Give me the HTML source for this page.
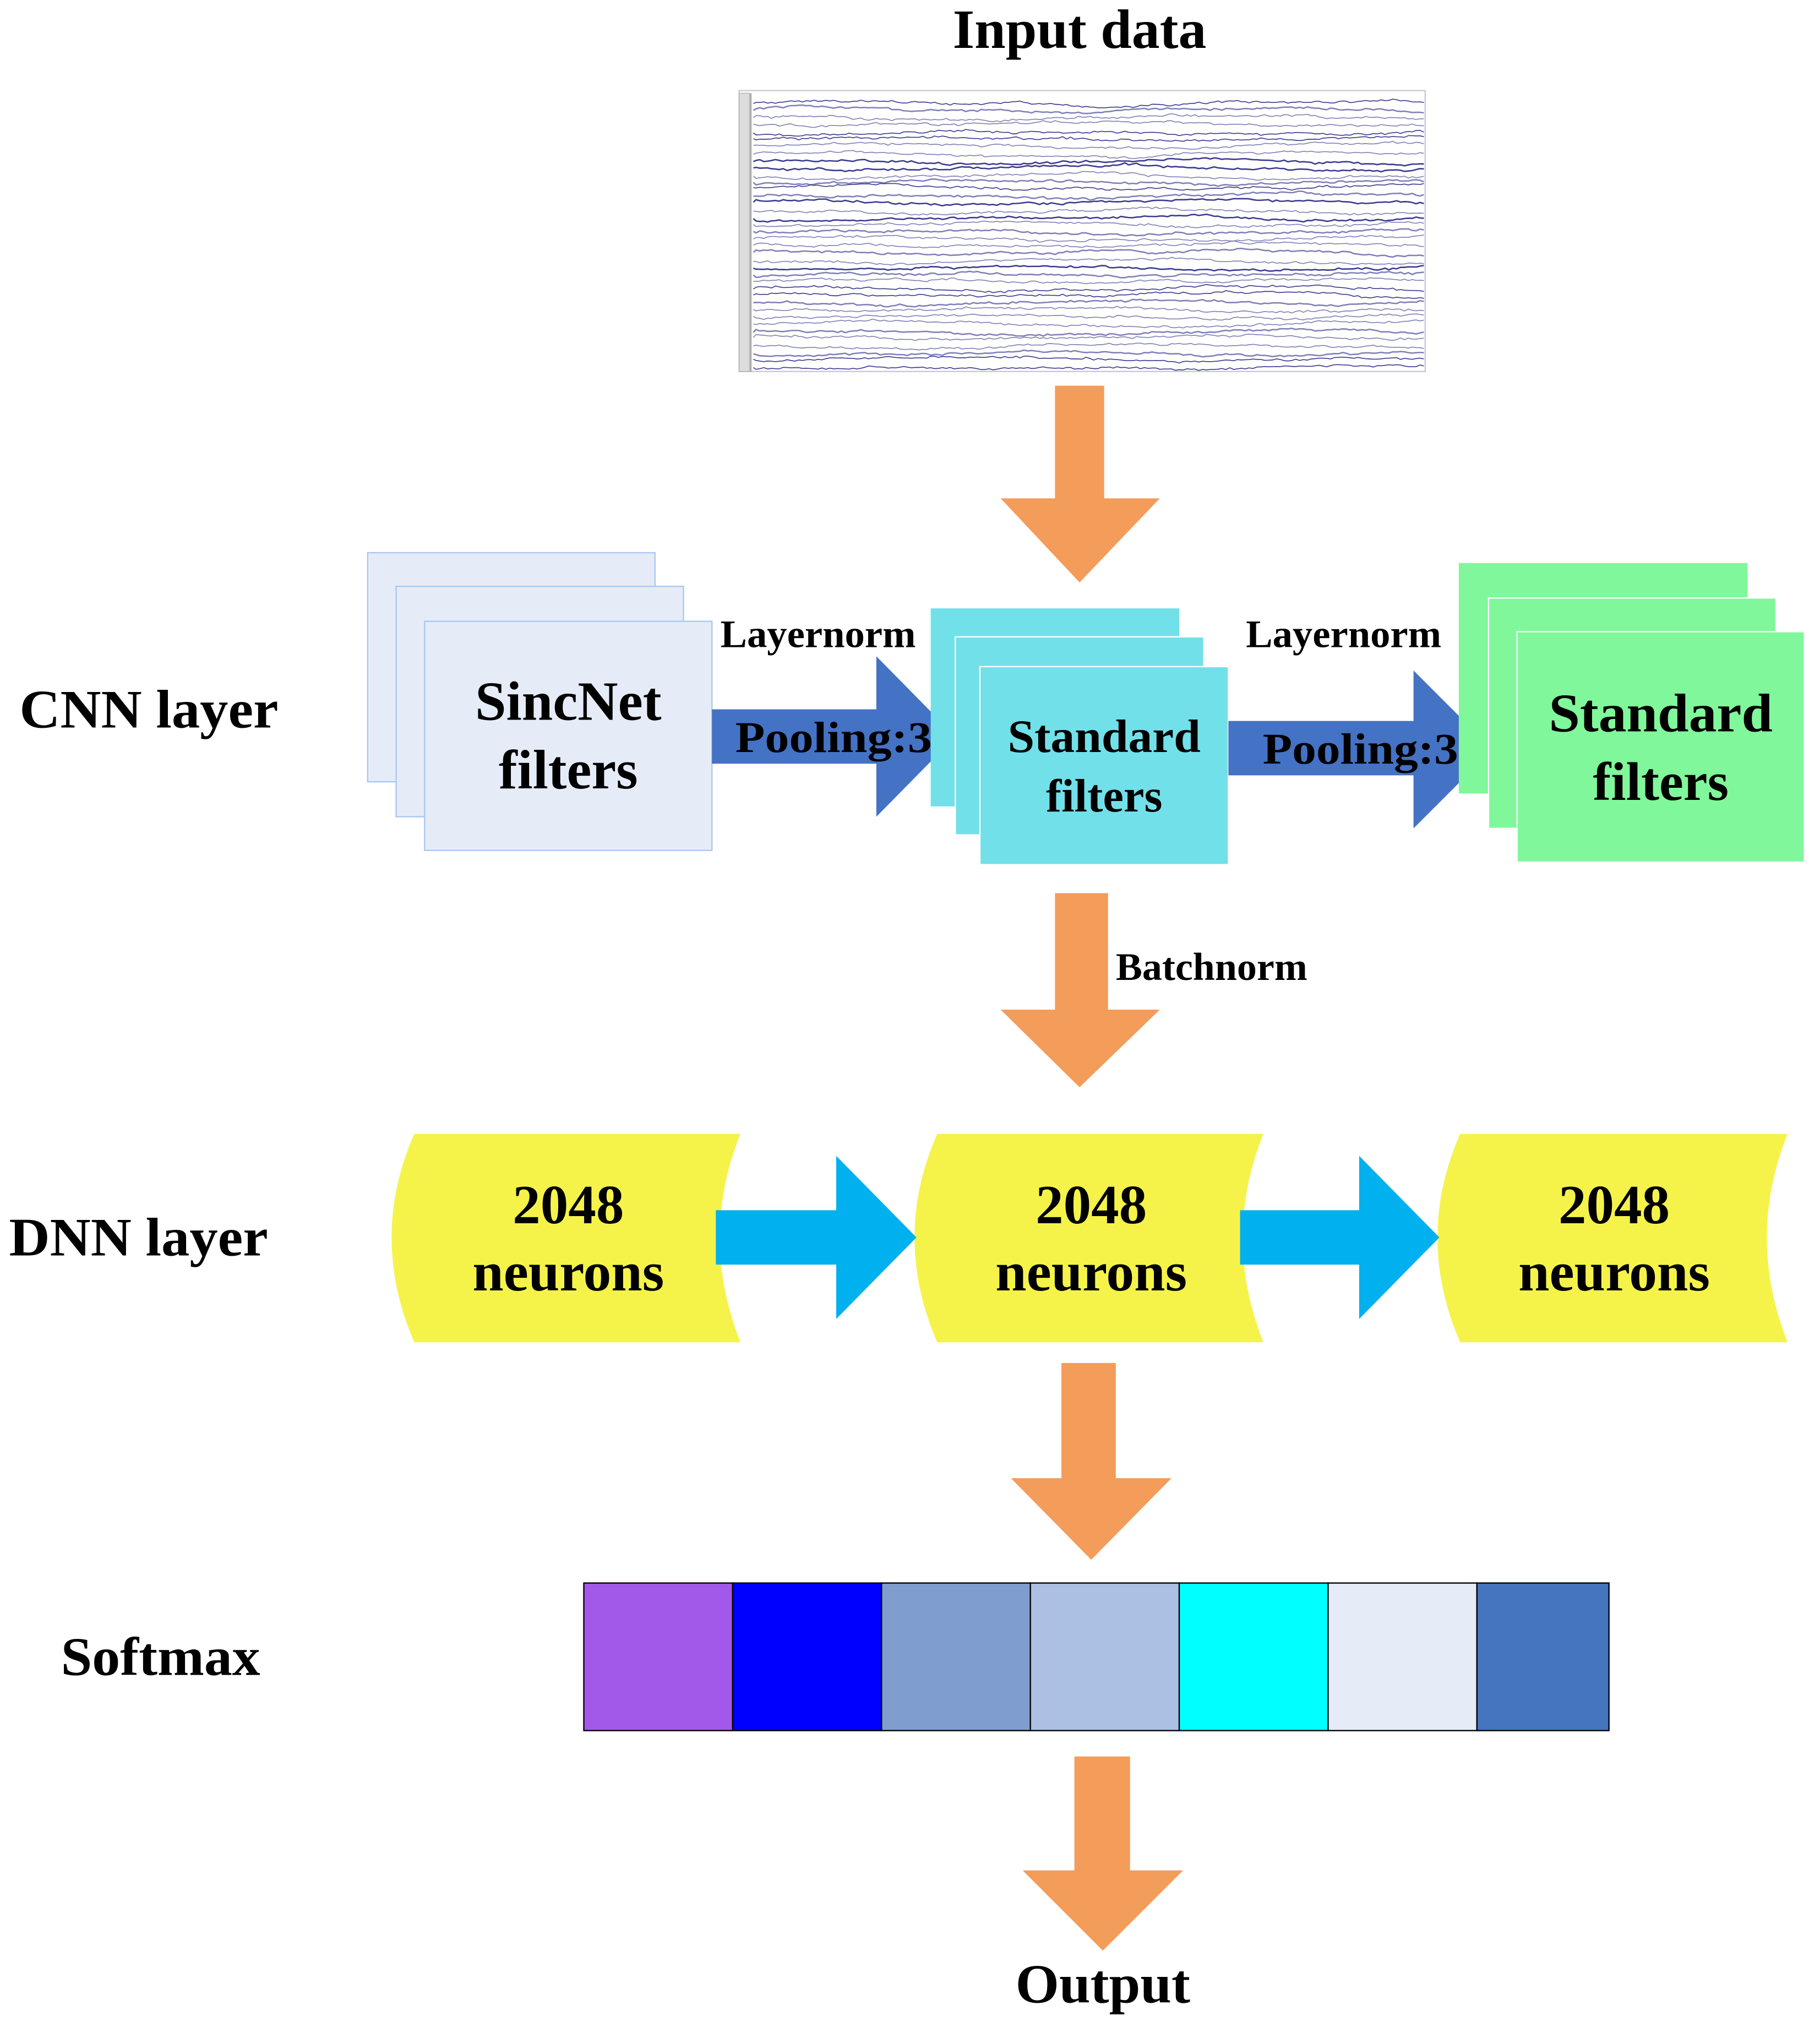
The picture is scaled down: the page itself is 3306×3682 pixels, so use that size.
<!DOCTYPE html>
<html><head><meta charset="utf-8"><style>
html,body{margin:0;padding:0;background:#fff;}
svg{display:block;}
text{font-family:"Liberation Serif",serif;font-weight:bold;fill:#000;}
</style></head><body>
<svg id="s" width="3306" height="3682" viewBox="0 0 1406 1566" xmlns="http://www.w3.org/2000/svg">
<rect width="1406" height="1566" fill="#fff"/>
<text x="834" y="37" font-size="43" text-anchor="middle" textLength="196" lengthAdjust="spacingAndGlyphs">Input data</text>
<g id="eeg">
<rect x="571" y="70" width="530" height="217" fill="#fff" stroke="#c8c8d8" stroke-width="1"/>
<line x1="580" y1="72" x2="580" y2="287" stroke="#999" stroke-width="1"/>
<rect x="571" y="72" width="8" height="215" fill="#ddd" stroke="#aaa" stroke-width="0.5"/>
</g>
<polygon points="815,298 853,298 853,385 896,385 834,450 773,385 815,385" fill="#f49c5a"/>
<g fill="#e6ecf7" stroke="#a9c8f0" stroke-width="1">
<rect x="284" y="427" width="222" height="177"/>
<rect x="306" y="453" width="222" height="178"/>
<rect x="328" y="480" width="222" height="177"/>
</g>
<text x="439" y="556" font-size="43" text-anchor="middle" textLength="144" lengthAdjust="spacingAndGlyphs">SincNet</text>
<text x="439" y="609" font-size="43" text-anchor="middle">filters</text>
<text x="632" y="500" font-size="30" text-anchor="middle" textLength="151" lengthAdjust="spacingAndGlyphs">Layernorm</text>
<polygon points="550,548 677,548 677,507 738,569 677,631 677,590 550,590" fill="#4472c4"/>
<text x="644" y="581" font-size="34" text-anchor="middle" textLength="152" lengthAdjust="spacingAndGlyphs">Pooling:3</text>
<g fill="#72e0e8">
<rect x="719" y="470" width="192" height="153"/>
<rect x="738" y="492" width="192" height="153" stroke="#fff" stroke-width="1"/>
<rect x="757" y="515" width="192" height="153" stroke="#fff" stroke-width="1"/>
</g>
<text x="853" y="581" font-size="36" text-anchor="middle" textLength="149" lengthAdjust="spacingAndGlyphs">Standard</text>
<text x="853" y="627" font-size="36" text-anchor="middle">filters</text>
<text x="1038" y="500" font-size="30" text-anchor="middle" textLength="151" lengthAdjust="spacingAndGlyphs">Layernorm</text>
<polygon points="949,557 1092,557 1092,518 1153,579 1092,640 1092,599 949,599" fill="#4472c4"/>
<text x="1051" y="590" font-size="34" text-anchor="middle" textLength="151" lengthAdjust="spacingAndGlyphs">Pooling:3</text>
<g fill="#80f79a">
<rect x="1127" y="435" width="223" height="178"/>
<rect x="1150" y="462" width="222" height="178" stroke="#fff" stroke-width="1"/>
<rect x="1172" y="488" width="222" height="178" stroke="#fff" stroke-width="1"/>
</g>
<text x="1283" y="565" font-size="42" text-anchor="middle" textLength="173" lengthAdjust="spacingAndGlyphs">Standard</text>
<text x="1283" y="618" font-size="42" text-anchor="middle">filters</text>
<text x="15" y="562" font-size="42" textLength="200" lengthAdjust="spacingAndGlyphs">CNN layer</text>
<polygon points="815,690 856,690 856,780 896,780 834,840 773,780 815,780" fill="#f49c5a"/>
<text x="862" y="757" font-size="30" textLength="148" lengthAdjust="spacingAndGlyphs">Batchnorm</text>
<g fill="#f5f34a">
<path d="M320,876 L572,876 Q540,956 572,1037 L320,1037 Q285,956 320,876 Z"/>
<path d="M724,876 L976,876 Q944,956 976,1037 L724,1037 Q689,956 724,876 Z"/>
<path d="M1128,876 L1381,876 Q1349,956 1381,1037 L1128,1037 Q1093,956 1128,876 Z"/>
</g>
<g fill="#00b0ef">
<polygon points="553,935 646,935 646,893 708,956 646,1019 646,977 553,977"/>
<polygon points="958,935 1050,935 1050,893 1112,956 1050,1019 1050,977 958,977"/>
</g>
<g font-size="43" text-anchor="middle">
<text x="439" y="945">2048</text><text x="439" y="997" textLength="148" lengthAdjust="spacingAndGlyphs">neurons</text>
<text x="843" y="945">2048</text><text x="843" y="997" textLength="148" lengthAdjust="spacingAndGlyphs">neurons</text>
<text x="1247" y="945">2048</text><text x="1247" y="997" textLength="148" lengthAdjust="spacingAndGlyphs">neurons</text>
</g>
<text x="7" y="970" font-size="42" textLength="200" lengthAdjust="spacingAndGlyphs">DNN layer</text>
<polygon points="820,1053 862,1053 862,1142 905,1142 843,1205 781,1142 820,1142" fill="#f49c5a"/>
<g stroke="#000" stroke-width="1">
<rect x="451" y="1223" width="115" height="114" fill="#a259ea"/>
<rect x="566" y="1223" width="115" height="114" fill="#0000ff"/>
<rect x="681" y="1223" width="115" height="114" fill="#7f9ecf"/>
<rect x="796" y="1223" width="115" height="114" fill="#abc0e2"/>
<rect x="911" y="1223" width="115" height="114" fill="#00ffff"/>
<rect x="1026" y="1223" width="115" height="114" fill="#e6ecf7"/>
<rect x="1141" y="1223" width="102" height="114" fill="#4675bf"/>
</g>
<text x="47" y="1294" font-size="42" textLength="154" lengthAdjust="spacingAndGlyphs">Softmax</text>
<polygon points="830,1357 873,1357 873,1445 914,1445 852,1507 790,1445 830,1445" fill="#f49c5a"/>
<text x="852" y="1547" font-size="43" text-anchor="middle" textLength="135" lengthAdjust="spacingAndGlyphs">Output</text>
</svg>
<script>
(function(){
var g=document.getElementById('eeg');var ns='http://www.w3.org/2000/svg';
var seed=7;function r(){seed=(seed*9301+49297)%233280;return seed/233280;}
for(var i=0;i<38;i++){
 var y=80+i*5.5+(r()-0.5)*2;var d='M582,'+y.toFixed(1);var off=0;
 for(var x=584;x<=1100;x+=3){off+=(r()-0.5)*1.2;off*=0.92;var w=Math.sin(x/60+i)*1.5;d+=' L'+x+','+(y+off+w+(r()-0.5)*1.2).toFixed(1);}
 var p=document.createElementNS(ns,'path');p.setAttribute('d',d);p.setAttribute('fill','none');
 p.setAttribute('stroke',r()<0.4?'#3a3a90':'#8080b8');p.setAttribute('stroke-width',r()<0.4?'1.1':'0.7');g.appendChild(p);
}
})();
</script>
</body></html>
